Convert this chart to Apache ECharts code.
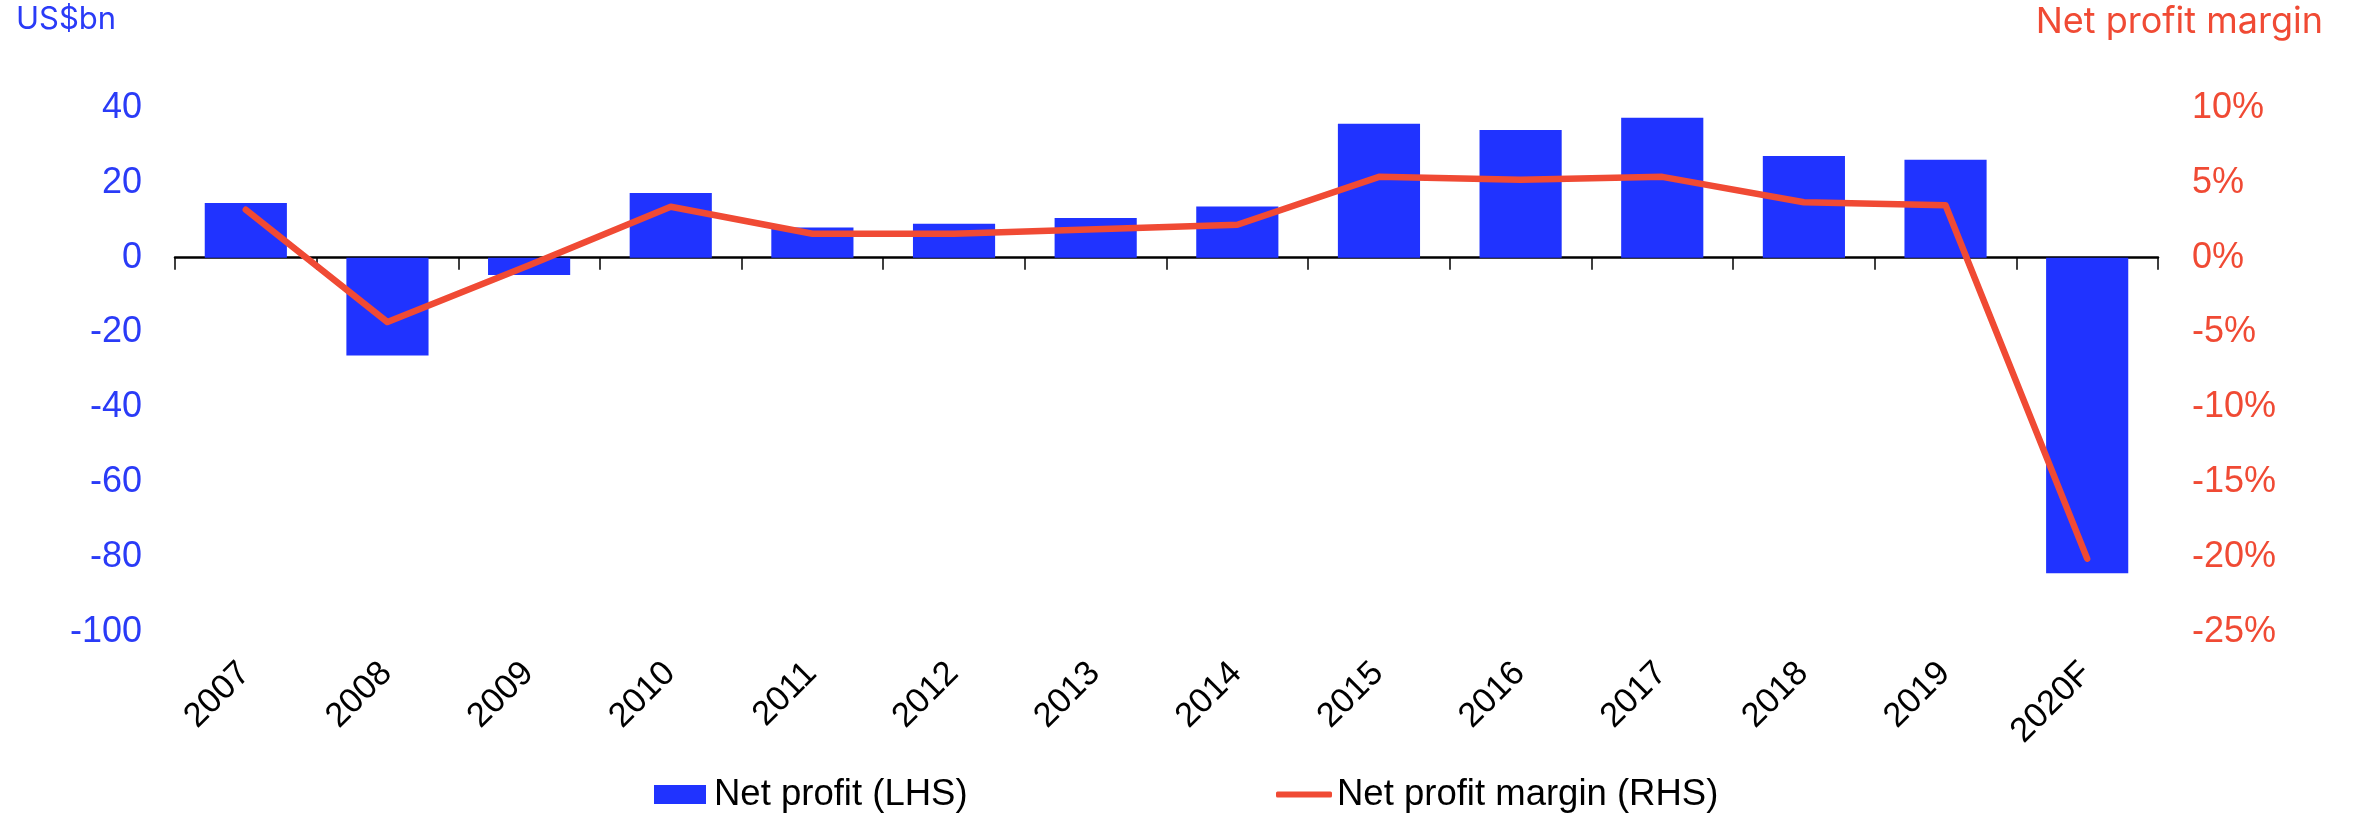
<!DOCTYPE html>
<html>
<head>
<meta charset="utf-8">
<script src="https://cdn.jsdelivr.net/npm/echarts@6/dist/echarts.min.js"></script>
<style>
html,body{margin:0;padding:0;background:#fff;}
#chart{width:2356px;height:816px;}
</style>
</head>
<body>
<div id="chart"></div>
<script>
const categories = ['2007','2008','2009','2010','2011','2012','2013','2014','2015','2016','2017','2018','2019','2020F'];
const netProfit = [14.6, -26.1, -4.6, 17.3, 8.1, 9.1, 10.6, 13.7, 35.8, 34.1, 37.4, 27.2, 26.2, -84.3];
const netMargin = [3.2, -4.3, -0.5, 3.4, 1.6, 1.6, 1.9, 2.2, 5.4, 5.2, 5.4, 3.7, 3.5, -20.1];
const leftTitle = 'US$bn';
const rightTitle = 'Net profit margin';
const barName = 'Net profit (LHS)';
const lineName = 'Net profit margin (RHS)';

const BLUE = '#2033FF';
const BLUE_TXT = '#2A3BF7';
const RED = '#F04A34';
const FONT = "'Liberation Sans', Arial, sans-serif";

const chart = echarts.init(document.getElementById('chart'), null, {renderer: 'canvas'});
chart.setOption({
  animation: false,
  backgroundColor: '#fff',
  graphic: [
    {type: 'text', left: 16, top: 4, z: 10,
     style: {text: leftTitle, font: "31px Inter", fill: BLUE_TXT}}
  ],
  title: [
    {text: rightTitle, right: 33, top: 4, padding: 0,
     textStyle: {color: RED, fontSize: 36, fontWeight: 'normal', fontFamily: 'Inter'}}
  ],
  legend: [
    {data: [barName], left: 654, top: 776, padding: 0, itemWidth: 52, itemHeight: 19, icon: 'rect',
     textStyle: {color: '#000', fontSize: 36.5, fontFamily: FONT, padding: [0,0,0,3]}},
    {data: [{name: lineName, icon: 'roundRect', itemStyle: {color: RED}}], left: 1276, top: 776, padding: 0,
     itemWidth: 56, itemHeight: 6,
     textStyle: {color: '#000', fontSize: 36.5, fontFamily: FONT}}
  ],
  grid: [
    {left: 175, right: 198, top: 108, bottom: 184, containLabel: false},
    {left: 174, right: 199, top: 108, bottom: 184, containLabel: false}
  ],
  xAxis: [
    {type: 'category', data: categories, gridIndex: 0,
     axisLine: {show: true, onZero: true, lineStyle: {color: '#000', width: 2.5}},
     axisTick: {show: true, length: 12, lineStyle: {color: '#000', width: 1.5}},
     axisLabel: {show: false}, splitLine: {show: false}},
    {type: 'category', data: categories, gridIndex: 1, position: 'bottom',
     axisLine: {show: false, onZero: false}, axisTick: {show: false}, splitLine: {show: false},
     axisLabel: {show: true, rotate: 45, margin: 36, interval: 0, color: '#000', fontSize: 34.5, fontFamily: FONT}}
  ],
  yAxis: [
    {type: 'value', gridIndex: 0, min: -100, max: 40, interval: 20, position: 'left',
     axisLine: {show: false}, axisTick: {show: false}, splitLine: {show: false},
     axisLabel: {color: BLUE_TXT, fontSize: 36, margin: 33, fontFamily: FONT}},
    {type: 'value', gridIndex: 0, min: -25, max: 10, interval: 5, position: 'right',
     axisLine: {show: false}, axisTick: {show: false}, splitLine: {show: false},
     axisLabel: {color: RED, fontSize: 36, margin: 34, fontFamily: FONT, formatter: '{value}%'}},
    {type: 'value', gridIndex: 1, show: false, min: 0, max: 1}
  ],
  series: [
    {name: barName, type: 'bar', xAxisIndex: 0, yAxisIndex: 0, data: netProfit,
     barWidth: '58%', itemStyle: {color: BLUE}},
    {name: lineName, type: 'line', xAxisIndex: 0, yAxisIndex: 1, data: netMargin,
     symbol: 'none', showSymbol: false, z: 5,
     lineStyle: {color: RED, width: 6.5, cap: 'round', join: 'round'}, itemStyle: {color: RED}}
  ]
});
</script>
</body>
</html>
